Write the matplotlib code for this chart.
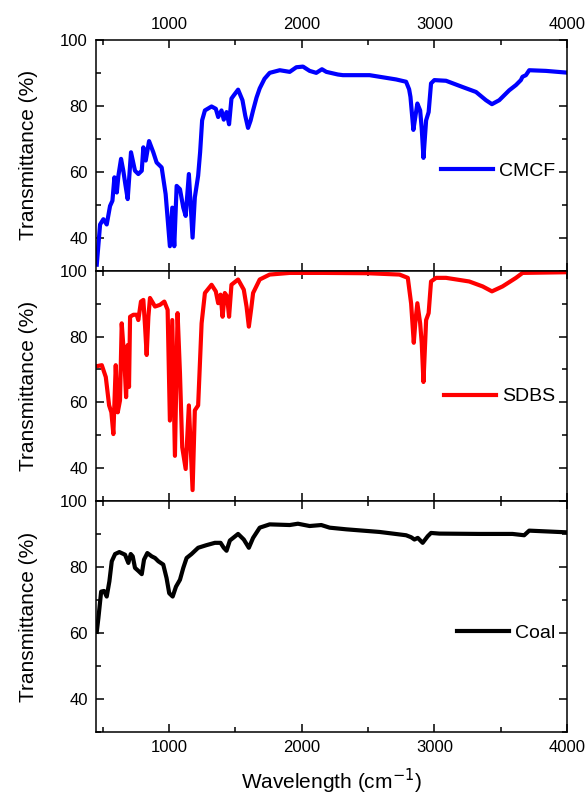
import numpy as np
import matplotlib
matplotlib.use("Agg")
import matplotlib.pyplot as plt
from matplotlib.ticker import MultipleLocator

plt.rcParams['font.family'] = ['Liberation Sans', 'DejaVu Sans']

# CMCF spectrum (wavenumber, transmittance %)
cmcf_wn = [456, 481, 506, 531, 556, 574, 589, 607, 619, 639, 656, 672, 689, 714, 744,
           769, 795, 807, 825, 850, 882, 907, 945, 975, 1007, 1025, 1040, 1058, 1083,
           1108, 1126, 1150, 1178, 1195, 1220, 1235, 1250, 1271, 1321, 1353, 1371, 1396,
           1413, 1434, 1453, 1471, 1489, 1521, 1554, 1575, 1596, 1615, 1634, 1660, 1684,
           1720, 1759, 1835, 1910, 1960, 2010, 2060, 2110, 2153, 2186, 2273, 2311, 2512,
           2712, 2787, 2810, 2820, 2842, 2858, 2872, 2893, 2905, 2918, 2938, 2957, 2975,
           3000, 3088, 3213, 3314, 3389, 3434, 3489, 3564, 3615, 3652, 3664, 3690, 3715,
           3840, 3990]
cmcf_t = [31.8, 44, 45.6, 44, 49.6, 51.2, 58.3, 53.7, 58.8, 63.9, 60.3, 56, 51.7, 65.9, 60.3,
          59.3, 60.3, 67.4, 63.4, 69.3, 65.9, 62.8, 61.3, 53.2, 37.4, 49.1, 37.4, 55.7, 54.7,
          49.1, 46.6, 59.3, 40, 52.2, 58.8, 66, 75.6, 78.6, 79.8, 79.1, 76.6, 78.6,
          75.8, 78.1, 74.4, 82.2, 83.2, 84.9, 81.7, 77, 73.3, 75.5, 78.6, 82.5, 85.3,
          88.2, 90, 90.8, 90.3, 91.7, 91.9, 90.6, 90, 91.1, 90.3, 89.5, 89.3, 89.3,
          88, 87.3, 85, 82.7, 72.7, 77, 80.7, 78.6, 73, 64.2, 75.6, 78.1, 86.8,
          87.8, 87.6, 85.7, 84.2, 81.7, 80.5, 81.7, 84.7, 86.3, 87.8, 88.8, 89.3, 90.8,
          90.6, 90.1]

# SDBS spectrum
sdbs_wn = [456, 494, 524, 549, 566, 581, 599, 614, 631, 644, 664, 677, 689, 699, 707,
           732, 757, 769, 789, 807, 820, 832, 845, 857, 895, 932, 965, 990, 1007, 1025,
           1045, 1065, 1083, 1100, 1126, 1150, 1178, 1195, 1220, 1246, 1271, 1321, 1353,
           1371, 1389, 1404, 1421, 1438, 1453, 1471, 1521, 1564, 1585, 1602, 1620, 1634,
           1684, 1759, 1910, 2160, 2500, 2737, 2800, 2825, 2845, 2858, 2872, 2893, 2905,
           2918, 2938, 2957, 2975, 3013, 3088, 3263, 3364, 3434, 3514, 3615, 3665, 3990]
sdbs_t = [71, 71.3, 67.7, 59.1, 57, 50.4, 71.3, 57, 60.6, 84, 72.8, 61.6, 77.4, 64.7, 86,
          86.6, 86.6, 85, 90.6, 91.1, 83, 74.4, 86, 91.7, 89.1, 89.6, 90.6, 88.1, 54.5, 85,
          43.8, 87.1, 68.8, 46.4, 39.8, 59.1, 33.4, 57.6, 59.1, 84, 93.2, 95.7, 93.7,
          90.1, 92.7, 86, 93.2, 92.2, 86, 95.7, 97.3, 94.2, 89, 83, 88.5, 93.2,
          97.3, 98.8, 99.3, 99.3, 99.2, 98.8, 97.8, 90, 78.1, 85, 90.1, 84, 78,
          66.2, 85, 87.1, 96.7, 97.8, 97.8, 96.7, 95.2, 93.7, 95.2, 97.8, 99.3, 99.5]

# Coal spectrum
coal_wn = [456, 468, 489, 511, 531, 551, 569, 594, 626, 669, 694, 712, 727, 744, 769,
           795, 812, 837, 870, 895, 920, 957, 982, 1002, 1028, 1053, 1083, 1108, 1133,
           1170, 1220, 1283, 1346, 1389, 1413, 1434, 1459, 1521, 1564, 1602, 1634, 1684,
           1759, 1910, 1972, 2060, 2148, 2211, 2336, 2587, 2787, 2825, 2850, 2875, 2912,
           2950, 2975, 3038, 3339, 3589, 3677, 3715, 3990]
coal_t = [60.4, 64.5, 72.6, 72.8, 71.1, 75.7, 81.8, 84, 84.6, 83.8, 81.3, 84, 83.3, 79.8, 78.9,
          77.9, 82.3, 84.3, 83.3, 82.8, 81.8, 80.8, 76.7, 72.1, 71.1, 74.1, 76.2, 79.8, 82.8,
          84, 85.9, 86.7, 87.4, 87.4, 85.9, 85, 88.1, 90.1, 88.4, 85.9, 88.9, 92,
          93, 92.8, 93.2, 92.5, 92.8, 92, 91.5, 90.7, 89.7, 89.1, 88.4, 88.9, 87.4,
          89.4, 90.4, 90.2, 90.1, 90.1, 89.7, 91.1, 90.6]

series = [(cmcf_wn, cmcf_t, '#0000ff', 'CMCF', 0.432),
          (sdbs_wn, sdbs_t, '#ff0000', 'SDBS', 0.454),
          (coal_wn, coal_t, '#000000', 'Coal', 0.43)]

fig, axes = plt.subplots(3, 1, figsize=(5.87, 7.98), dpi=100, sharex=True)
fig.subplots_adjust(left=0.1635, right=0.966, top=0.95, bottom=0.0827, hspace=0)

for ax, (wn, t, c, name, ly) in zip(axes, series):
    ax.plot(wn, t, color=c, lw=3, label=name, solid_joinstyle='round')
    ax.set_xlim(450, 4000)
    ax.set_ylim(30, 100)
    ax.xaxis.set_major_locator(MultipleLocator(1000))
    ax.xaxis.set_minor_locator(MultipleLocator(500))
    ax.yaxis.set_major_locator(MultipleLocator(20))
    ax.yaxis.set_minor_locator(MultipleLocator(10))
    ax.tick_params(which='both', direction='in', top=True, right=True,
                   labelsize=12, width=1.1, pad=6)
    ax.tick_params(which='major', length=6)
    ax.tick_params(which='minor', length=3.5)
    for s in ax.spines.values():
        s.set_linewidth(1.1)
    ax.set_ylabel('Transmittance (%)', fontsize=15, labelpad=16)
    ax.legend(loc='center right', bbox_to_anchor=(0.975, ly), frameon=False,
              fontsize=14, handlelength=2.7, handletextpad=0.3,
              borderpad=0, borderaxespad=0)

axes[0].tick_params(labeltop=True)
axes[2].set_xlabel('Wavelength (cm$^{-1}$)', fontsize=15, labelpad=8)

fig.savefig('out.png', dpi=100)
